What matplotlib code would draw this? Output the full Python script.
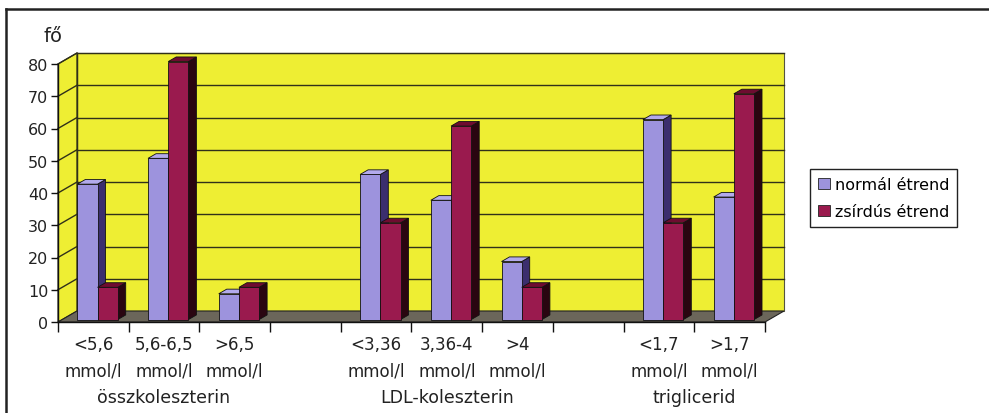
import numpy as np
import matplotlib
matplotlib.use("Agg")
import matplotlib.pyplot as plt
from matplotlib.patches import Polygon, Patch
from matplotlib.transforms import blended_transform_factory

# ---------------- data ----------------
cat_line1 = ["<5,6", "5,6-6,5", ">6,5", "", "<3,36", "3,36-4", ">4", "", "<1,7", ">1,7"]
cat_line2 = ["mmol/l", "mmol/l", "mmol/l", "", "mmol/l", "mmol/l", "mmol/l", "", "mmol/l", "mmol/l"]
group_labels = ["összkoleszterin", "LDL-koleszterin", "triglicerid"]
group_centers = [1.5, 5.5, 9.0]          # category-axis position of the group captions
normal = [42, 50, 8, np.nan, 45, 37, 18, np.nan, 62, 38]
zsirdus = [10, 80, 10, np.nan, 30, 60, 10, np.nan, 30, 70]
series_names = ["normál étrend", "zsírdús étrend"]
yticks = list(range(0, 81, 10))

# ---------------- style ----------------
W, H = 989, 414
fig = plt.figure(figsize=(W / 100, H / 100), dpi=100)
fig.patch.set_facecolor("white")
FONT = "DejaVu Sans"

ax = fig.add_axes([58 / W, 1 - 323 / H, 707 / W, 258 / H])
ax.set_xlim(0, 10)
ax.set_ylim(0, 80)
ax.patch.set_visible(False)

DX = 19 / 70.7      # depth offset in category units
DY = 11 / 3.225     # depth offset in value units
F0, F1 = 0.22, 0.64  # bar front/back depth fractions
BW = 1 / 3.5        # bar width (gap 150%)

yellow = "#EEEE33"
grid_c = "#30301a"
floor_c = "#6b665a"

n = len(cat_line1)
ymax = 80

def poly(pts, fc, ec="none", lw=0.0, z=1):
    p = Polygon(pts, closed=True, facecolor=fc, edgecolor=ec, linewidth=lw, zorder=z, clip_on=False)
    ax.add_patch(p)

# walls
poly([(DX, DY), (n + DX, DY), (n + DX, ymax + DY), (DX, ymax + DY)], yellow, "#555540", 0.8, 0.5)
poly([(0, 0), (DX, DY), (DX, ymax + DY), (0, ymax)], yellow, "#222210", 0.8, 0.6)
# floor
poly([(0, 0), (n, 0), (n + DX, DY), (DX, DY)], floor_c, "#222222", 0.8, 0.7)

# gridlines
for v in yticks[1:]:
    ax.plot([DX, n + DX], [v + DY, v + DY], color=grid_c, lw=1.0, zorder=0.8, clip_on=False)
    ax.plot([0, DX], [v, v + DY], color=grid_c, lw=1.0, zorder=0.8, clip_on=False)
ax.plot([DX, DX], [DY, ymax + DY], color=grid_c, lw=1.0, zorder=0.8, clip_on=False)

# bars
series = [
    (normal, -BW, ("#9D93DD", "#B3AAEC", "#3B2E6E")),
    (zsirdus, 0.0, ("#9A1A4E", "#6E0C30", "#2A0510")),
]
for i in range(n):
    for vals, off, (cf, ct, cs) in series:
        v = vals[i]
        if np.isnan(v):
            continue
        x0 = i + 0.5 + off
        x1 = x0 + BW
        a0x, a0y = F0 * DX, F0 * DY
        a1x, a1y = F1 * DX, F1 * DY
        z = 2 + i * 0.1 + (0.05 if off == 0 else 0)
        poly([(x1 + a0x, a0y), (x1 + a1x, a1y), (x1 + a1x, v + a1y), (x1 + a0x, v + a0y)], cs, "#111111", 0.6, z)
        poly([(x0 + a0x, v + a0y), (x1 + a0x, v + a0y), (x1 + a1x, v + a1y), (x0 + a1x, v + a1y)], ct, "#111111", 0.6, z)
        poly([(x0 + a0x, a0y), (x1 + a0x, a0y), (x1 + a0x, v + a0y), (x0 + a0x, v + a0y)], cf, "#111111", 0.6, z)

# axes lines and ticks
for s in ["top", "right"]:
    ax.spines[s].set_visible(False)
ax.spines["left"].set_color("#111111")
ax.spines["bottom"].set_color("#111111")
ax.spines["left"].set_linewidth(1.0)
ax.spines["bottom"].set_linewidth(1.0)
ax.set_yticks(yticks)
ax.set_yticklabels([str(t) for t in yticks], fontsize=11.5, family=FONT, color="#222222")
ax.set_xticks(range(0, n + 1))
ax.set_xticklabels([])
ax.tick_params(axis="y", direction="out", length=5, width=1, pad=2, color="#111111")
ax.tick_params(axis="x", direction="out", length=7, width=1, color="#111111")

# category labels
tr = blended_transform_factory(ax.transData, fig.transFigure)
for i in range(n):
    c = i + 0.5
    ax.text(c, 1 - 345 / H, cat_line1[i], transform=tr, ha="center", va="center",
            fontsize=12, family=FONT, color="#222222")
    ax.text(c, 1 - 372 / H, cat_line2[i], transform=tr, ha="center", va="center",
            fontsize=12, family=FONT, color="#222222")
for g, c in zip(group_labels, group_centers):
    ax.text(c, 1 - 398 / H, g, transform=tr, ha="center", va="center",
            fontsize=12.5, family=FONT, color="#222222")

# axis title
fig.text(53 / W, 1 - 37 / H, "fő", ha="center", va="center", fontsize=14, family=FONT, color="#222222")

# legend
handles = [Patch(facecolor="#9D93DD", edgecolor="#222222", linewidth=0.6),
           Patch(facecolor="#9A1A4E", edgecolor="#222222", linewidth=0.6)]
leg = fig.legend(handles, series_names, loc="center left", bbox_to_anchor=(810 / W, 1 - 199 / H),
                 prop={"family": FONT, "size": 11.5}, frameon=True, fancybox=False,
                 edgecolor="#222222", framealpha=1, handlelength=0.75, handleheight=0.75,
                 handletextpad=0.3, borderpad=0.5, labelspacing=0.75, borderaxespad=0)
leg.get_frame().set_linewidth(1.0)

# outer border
fig.add_artist(plt.Line2D([6 / W, 1.0], [1 - 10 / H, 1 - 10 / H], transform=fig.transFigure, color="#222222", lw=1.8))
fig.add_artist(plt.Line2D([6 / W, 6 / W], [0.0, 1 - 10 / H], transform=fig.transFigure, color="#222222", lw=1.8))

fig.savefig("out.png", dpi=100, facecolor="white")
